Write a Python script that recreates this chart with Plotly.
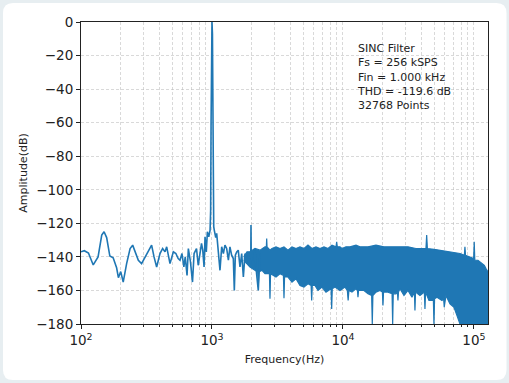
import plotly.graph_objects as go

# ---------------- data ----------------
# sparse part of the spectrum (Hz, dB)
line_freq_hz = [100, 106, 114, 124, 135, 144, 150, 157, 166, 176, 187, 193, 201, 210,
                223, 237, 248, 258, 274, 290, 317, 346, 361, 378, 401, 420, 438, 451,
                478, 507, 530, 552, 570, 590, 610, 625, 645, 660, 685, 710, 730, 762,
                785, 810, 832, 850, 870, 885, 905, 922, 945, 967, 977, 984, 992, 1000,
                1008, 1016, 1023, 1031, 1041, 1068, 1086, 1117, 1151, 1186, 1222, 1256,
                1294, 1334, 1371, 1413, 1455, 1481, 1508, 1545, 1587, 1636, 1686, 1736,
                1788, 1842, 1897, 1940, 1978, 1985, 1993, 2068, 2130, 2190, 2257, 2325]
line_amp_db = [-137, -136.3, -137.7, -144.8, -140, -127, -125, -128.5, -139.5, -140.5,
               -146.5, -152.4, -148.8, -155, -144, -135, -133, -137, -142, -144, -138,
               -133, -140, -146, -138, -135, -137, -134, -144, -137, -138, -141, -142,
               -138, -146, -140, -151, -135, -143, -155, -138, -135, -145, -138, -132,
               -136, -146, -128, -137, -125, -128, -124, -112, -60, -7, 0, -7, -60,
               -112, -122, -124, -128.5, -126, -136, -148, -134, -138, -133, -135, -142,
               -134, -139, -141, -160, -139, -137, -136, -146, -138, -152, -138, -144,
               -139, -141, -140, -121, -140, -146, -136, -150, -160, -138]

# dense noise floor: upper envelope (Hz, dB)
upper_freq_hz = [1750, 1850, 1950, 2130, 2325, 2539, 2600, 2616, 2632, 2772, 2871, 3081,
                 3304, 3546, 3803, 4080, 4378, 4697, 5039, 5406, 5800, 6222, 6674, 7161,
                 7684, 8243, 8850, 8953, 9050, 9486, 9826, 10541, 11309, 12570, 13484,
                 15520, 17860, 20560, 23950, 27230, 31350, 36080, 40000, 43000, 43560,
                 44100, 49510, 55020, 61140, 65600, 70380, 78210, 84500, 85360, 86200,
                 93200, 99500, 100500, 101500, 107300, 115100, 120000, 123500, 128000]
upper_amp_db = [-140, -137, -137, -135, -136, -134, -134, -129, -134, -136, -135, -134,
                -135, -134, -136, -134, -135, -134, -135, -133, -135, -134, -135, -134,
                -135, -133, -134, -131, -134, -134, -135, -134, -134, -133, -134, -134,
                -133, -134, -134, -134, -134, -135, -135, -135, -127, -135, -135.5, -136,
                -136.5, -137, -137.5, -138, -139, -134, -139, -140, -141, -131, -142,
                -142, -144, -145, -147, -149]

# dense noise floor: lower envelope (Hz, dB)
lower_freq_hz = [1750, 1950, 2130, 2232, 2257, 2282, 2408, 2539, 2745, 2772, 2800, 3081,
                 3304, 3510, 3546, 3582, 3803, 4080, 4378, 4697, 5039, 5406, 5710, 5769,
                 5830, 6114, 6447, 6915, 7419, 8115, 8200, 8285, 8690, 9486, 10358,
                 10800, 10950, 11100, 11714, 12570, 12900, 13020, 13150, 14466, 15520,
                 16560, 16740, 16920, 17860, 19160, 20000, 20200, 20400, 22060, 23700,
                 23950, 24200, 25390, 26050, 26290, 26530, 27230, 29220, 31350, 33630,
                 35100, 35450, 35800, 38710, 41800, 42270, 42700, 45350, 49000, 49510,
                 50050, 52190, 56990, 58700, 59300, 61140, 65600, 70380, 74190, 78210,
                 128000]
lower_amp_db = [-142, -146, -148, -149, -158, -149, -148, -150, -150, -165, -150, -152,
                -150, -151, -164.6, -152, -152, -155, -153, -157, -158, -156, -157, -166,
                -157, -157, -160, -158, -161, -159, -171, -159, -158, -160, -158, -160,
                -166, -160, -161, -159, -160, -164, -160, -160, -162, -163, -180, -163,
                -161, -160, -161, -169, -161, -161, -162, -180, -162, -162, -161, -166,
                -161, -159, -163, -160, -164, -161, -172, -161, -163, -161, -171, -161,
                -166, -166, -180, -165, -164, -166, -165, -170, -163, -168, -170, -175,
                -180, -180]

x_tick_vals = [100, 1000, 10000, 100000]
x_tick_text = ["10<sup>2</sup>", "10<sup>3</sup>", "10<sup>4</sup>", "10<sup>5</sup>"]
x_minor_vals = [m * d for d in (100, 1000, 10000) for m in range(2, 10)] + [200000]
y_tick_vals = [0, -20, -40, -60, -80, -100, -120, -140, -160, -180]
y_tick_text = ["0", "\u221220", "\u221240", "\u221260", "\u221280", "\u2212100",
               "\u2212120", "\u2212140", "\u2212160", "\u2212180"]

info_lines = ["SINC Filter", "Fs = 256 kSPS", "Fin = 1.000 kHz",
              "THD = -119.6 dB", "32768 Points"]

BLUE = "#1f77b4"
FONT = "DejaVu Sans"

fig = go.Figure()

fig.add_trace(go.Scatter(
    x=upper_freq_hz + lower_freq_hz[::-1],
    y=upper_amp_db + lower_amp_db[::-1],
    mode="lines", fill="toself", fillcolor=BLUE,
    line=dict(color=BLUE, width=1.2), hoverinfo="skip", showlegend=False))

fig.add_trace(go.Scatter(
    x=line_freq_hz, y=line_amp_db, mode="lines",
    line=dict(color=BLUE, width=1.6), showlegend=False))

W, H = 509, 383
L, R, T, B = 81, 21, 22, 59
pw, ph = W - L - R, H - T - B

def px_x(px):
    return (px - L) / pw

def px_y(py):
    return (H - B - py) / ph

x0, x1 = px_x(3), px_x(506.5)
y0, y1 = px_y(380), px_y(3)
rx, ry = 10 / pw, 10 / ph
path = (f"M {x0+rx},{y1} L {x1-rx},{y1} Q {x1},{y1} {x1},{y1-ry} "
        f"L {x1},{y0+ry} Q {x1},{y0} {x1-rx},{y0} L {x0+rx},{y0} "
        f"Q {x0},{y0} {x0},{y0+ry} L {x0},{y1-ry} Q {x0},{y1} {x0+rx},{y1} Z")
fig.add_shape(type="path", path=path, xref="paper", yref="paper",
              fillcolor="white", line=dict(width=0), layer="below")

fig.add_annotation(
    x=px_x(355), y=px_y(40), xref="paper", yref="paper",
    xanchor="left", yanchor="top", align="left", showarrow=False,
    text="<br>".join(info_lines), font=dict(family=FONT, size=11, color="#222"))

grid = "rgba(185,185,185,0.55)"
fig.update_xaxes(
    type="log", range=[2, 5.1072], tickvals=x_tick_vals, ticktext=x_tick_text,
    ticks="outside", ticklen=4, tickcolor="#222", showline=True, linecolor="#222",
    mirror=True, linewidth=1, showgrid=True, gridcolor=grid, griddash="3px,2px",
    gridwidth=0.8, zeroline=False,
    minor=dict(tickvals=x_minor_vals, ticks="outside", ticklen=2, tickcolor="#222",
               showgrid=True, gridcolor=grid, griddash="3px,2px", gridwidth=0.8),
    tickfont=dict(family=FONT, size=13.5, color="#222"),
    title=dict(text="Frequency(Hz)", font=dict(family=FONT, size=11, color="#222"),
               standoff=8))
fig.update_yaxes(
    range=[-180, 0], tickvals=y_tick_vals, ticktext=y_tick_text,
    ticks="outside", ticklen=4, tickcolor="#222", showline=True, linecolor="#222",
    mirror=True, linewidth=1, showgrid=True, gridcolor=grid, griddash="3px,2px",
    gridwidth=0.8, zeroline=False,
    tickfont=dict(family=FONT, size=13.5, color="#222"),
    title=dict(text="Amplitude(dB)", font=dict(family=FONT, size=11, color="#222"),
               standoff=6))

fig.update_layout(
    width=W, height=H, margin=dict(l=L, r=R, t=T, b=B, autoexpand=False),
    paper_bgcolor="#e7eef1", plot_bgcolor="white")

fig.write_html("out.html", config={"displayModeBar": False},
               post_script="document.body.style.margin='0px';"
                           "document.body.style.overflow='hidden';")
